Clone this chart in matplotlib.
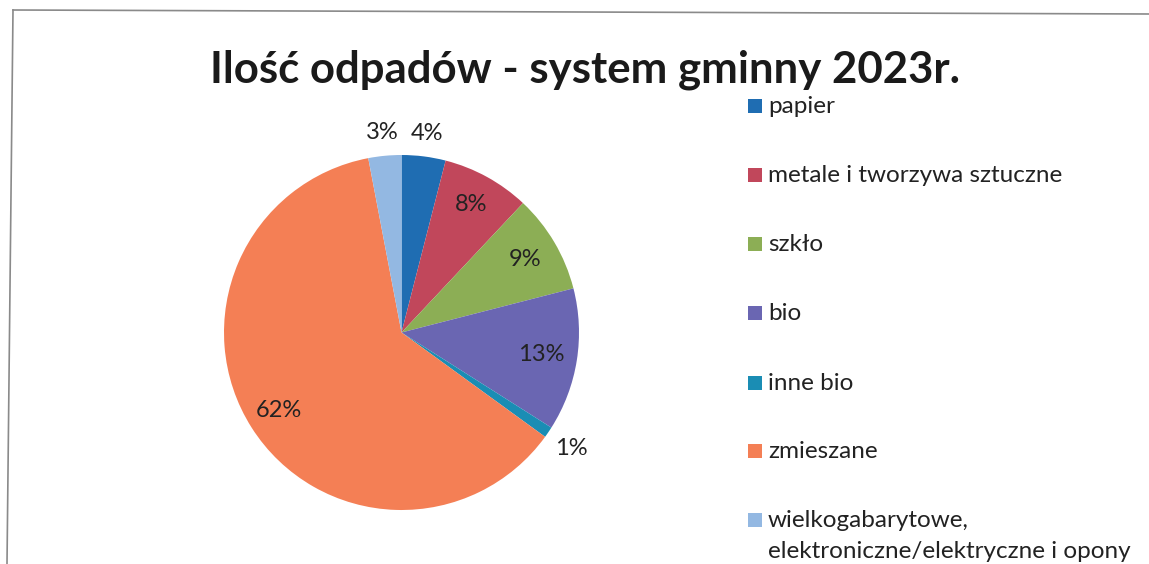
import matplotlib
matplotlib.use("Agg")
import matplotlib.pyplot as plt
from matplotlib.patches import Rectangle
from matplotlib.lines import Line2D
import numpy as np

title = "Ilość odpadów - system gminny 2023r."
categories = ["papier", "metale i tworzywa sztuczne", "szkło", "bio", "inne bio",
              "zmieszane", "wielkogabarytowe,\nelektroniczne/elektryczne i opony"]
values = [4, 8, 9, 13, 1, 62, 3]
colors = ["#1f6db2", "#c1475b", "#8cae55", "#6a66b2", "#1a8db4", "#f47f55", "#93b8e2"]
label_radius = [1.13, 0.82, 0.81, 0.80, 1.16, 0.82, 1.13]

W, H = 1149, 564
fig = plt.figure(figsize=(W / 100, H / 100), dpi=100)
fig.patch.set_facecolor("white")

# frame (top and left edges, slightly skewed as in the scan)
fig.add_artist(Line2D([13 / W, 1.0], [1 - 10 / H, 1 - 14 / H], transform=fig.transFigure,
                      color="#8a8a8a", linewidth=1.2))
fig.add_artist(Line2D([13 / W, 7 / W], [1 - 10 / H, 0.0], transform=fig.transFigure,
                      color="#8a8a8a", linewidth=1.2))

cx, cy, r = 401.5, 332.5, 177.5
ax = fig.add_axes([(cx - r) / W, 1 - (cy + r) / H, 2 * r / W, 2 * r / H])
wedges, _ = ax.pie(values, colors=colors, startangle=90, counterclock=False,
                   wedgeprops=dict(linewidth=0))
ax.set_xlim(-1, 1)
ax.set_ylim(-1, 1)
ax.set_aspect("equal")
ax.axis("off")

for w, v, lr in zip(wedges, values, label_radius):
    ang = np.deg2rad((w.theta1 + w.theta2) / 2)
    ax.text(lr * np.cos(ang), lr * np.sin(ang), f"{v}%", ha="center", va="center",
            fontsize=17, family="Lato", color="#222222", clip_on=False)

fig.text(585.5 / W, 1 - 83 / H, title, ha="center", va="baseline",
         fontsize=31.5, fontweight="bold", family="Lato", color="#1a1a1a")

baselines = [113, 182, 251, 320, 390, 458, 527]
for lab, col, b in zip(categories, colors, baselines):
    fig.add_artist(Rectangle((748 / W, 1 - b / H), 14 / W, 14 / H,
                             transform=fig.transFigure, facecolor=col, edgecolor="none"))
    lines = lab.split("\n")
    for k, line in enumerate(lines):
        fig.text(768 / W, 1 - (b + 31 * k) / H, line, ha="left", va="baseline",
                 fontsize=17.5, family="Lato", color="#222222")

fig.savefig("out.png", dpi=100, facecolor="white")
